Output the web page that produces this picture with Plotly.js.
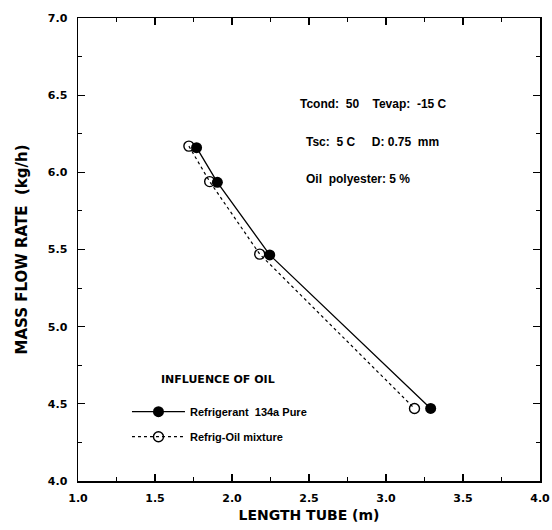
<!DOCTYPE html>
<html>
<head>
<meta charset="utf-8">
<script src="https://cdn.plot.ly/plotly-3.0.1.min.js"></script>
<style>html,body{margin:0;padding:0;background:#fff;}#chart{width:552px;height:530px;}</style>
</head>
<body>
<div id="chart"></div>
<script>
// Data
const pureLength = [1.77, 1.905, 2.245, 3.29];
const pureFlow   = [6.16, 5.935, 5.465, 4.47];
const mixLength  = [1.72, 1.855, 2.18, 3.185];
const mixFlow    = [6.17, 5.94, 5.47, 4.47];
const seriesNames = ["Refrigerant  134a Pure", "Refrig-Oil mixture"];
const xTicks = [1.0, 1.5, 2.0, 2.5, 3.0, 3.5, 4.0];
const yTicks = [4.0, 4.5, 5.0, 5.5, 6.0, 6.5, 7.0];

const font = "Liberation Sans, Arial, sans-serif";
const heavy = "DejaVu Sans, Liberation Sans, sans-serif";

const traces = [
  {
    x: pureLength, y: pureFlow, name: seriesNames[0], mode: "lines+markers",
    legendgroup: "a",
    line: {color: "#000", width: 1.3},
    marker: {symbol: "circle", size: 11, color: "#000"}
  },
  {
    x: mixLength, y: mixFlow, name: seriesNames[1], mode: "lines+markers",
    legendgroup: "b",
    line: {color: "#000", width: 1.2, dash: "dot"},
    marker: {symbol: "circle-open", size: 10, color: "#000", line: {width: 1.4, color: "#000"}}
  }
];

const axisCommon = {
  showgrid: false, zeroline: false, showline: true, linecolor: "#000", linewidth: 1.5,
  mirror: "ticks", ticks: "inside", ticklen: 7, tickwidth: 1.3, tickcolor: "#000",
  tickfont: {family: heavy, size: 11, color: "#000", weight: "bold"},
  minor: {ticks: "inside", ticklen: 4, tickwidth: 1, tickcolor: "#000", dtick: 0.25}
};

const layout = {
  width: 552, height: 530,
  margin: {l: 78, r: 12, t: 18, b: 49},
  paper_bgcolor: "#fff", plot_bgcolor: "#fff",
  showlegend: true,
  legend: {
    x: 0.106, y: 0.181, xanchor: "left", yanchor: "top",
    bgcolor: "rgba(0,0,0,0)", borderwidth: 0,
    tracegroupgap: 6, itemwidth: 53,
    font: {family: font, size: 11, color: "#000", weight: "bold"}
  },
  xaxis: Object.assign({}, axisCommon, {
    range: [1, 4], tickvals: xTicks, ticktext: xTicks.map(v => v.toFixed(1)),
    ticklabelstandoff: 6,
    title: {text: "LENGTH TUBE (m)", font: {family: heavy, size: 14, color: "#000", weight: "bold"}, standoff: 6}
  }),
  yaxis: Object.assign({}, axisCommon, {
    range: [4, 7], tickvals: yTicks, ticktext: yTicks.map(v => v.toFixed(1)),
    ticklabelstandoff: 7,
    title: {text: "MASS FLOW RATE  (kg/h)", font: {family: heavy, size: 15, color: "#000", weight: "bold"}, standoff: 16}
  }),
  annotations: [
    {xref: "paper", yref: "paper", x: 0.477, y: 0.834, xanchor: "left", showarrow: false,
     text: "Tcond:  50    Tevap:  -15 C", font: {family: font, size: 12, color: "#000", weight: "bold"}},
    {xref: "paper", yref: "paper", x: 0.489, y: 0.752, xanchor: "left", showarrow: false,
     text: "Tsc:  5 C     D: 0.75  mm", font: {family: font, size: 12, color: "#000", weight: "bold"}},
    {xref: "paper", yref: "paper", x: 0.49, y: 0.672, xanchor: "left", showarrow: false,
     text: "Oil  polyester: 5 %", font: {family: font, size: 12, color: "#000", weight: "bold"}},
    {xref: "paper", yref: "paper", x: 0.176, y: 0.2, xanchor: "left", showarrow: false,
     text: "INFLUENCE OF OIL", font: {family: heavy, size: 11, color: "#000", weight: "bold"}}
  ]
};

Plotly.newPlot("chart", traces, layout, {staticPlot: true, displayModeBar: false});
</script>
</body>
</html>
